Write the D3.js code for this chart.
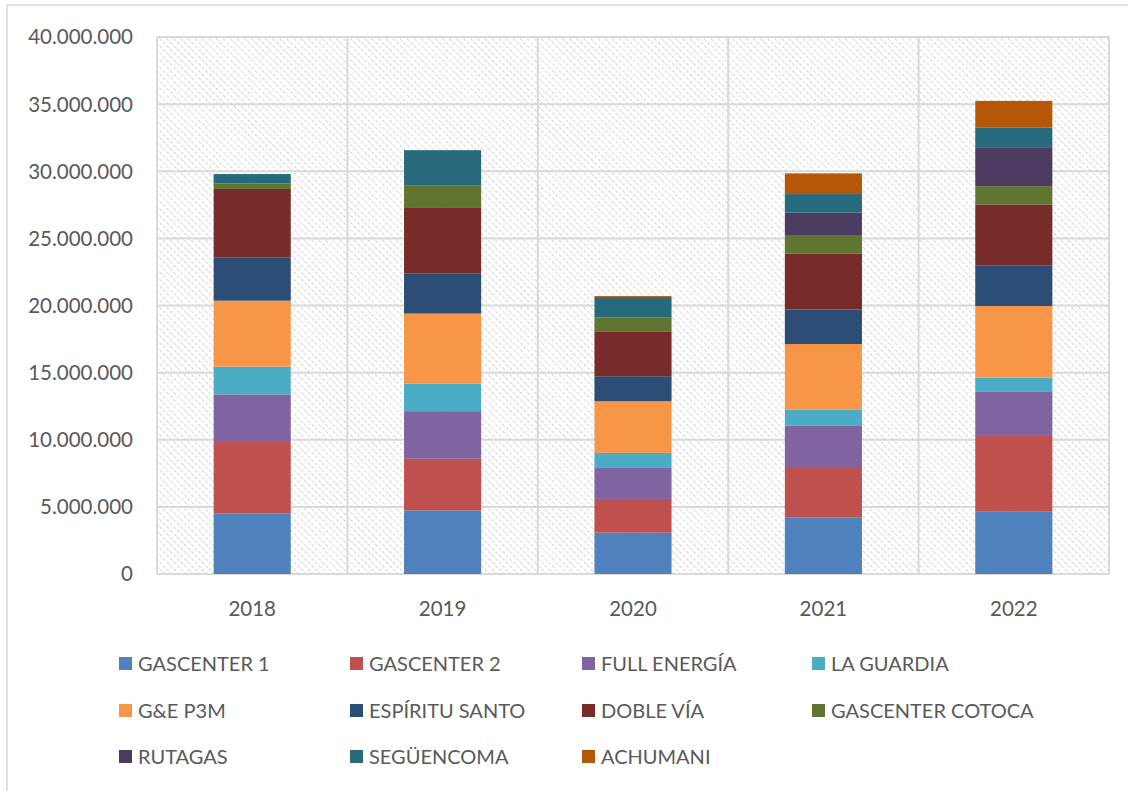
<!DOCTYPE html>
<html>
<head>
<meta charset="utf-8">
<script src="https://cdn.jsdelivr.net/npm/d3@7"></script>
<style>
  body { margin: 0; background: #fff; }
  svg text { font-family: Lato, "Open Sans", sans-serif; fill: #595959; }
</style>
</head>
<body>
<div id="app"></div>
<script>
const years = ["2018", "2019", "2020", "2021", "2022"];
const seriesNames = [
  "GASCENTER 1", "GASCENTER 2", "FULL ENERGÍA", "LA GUARDIA",
  "G&E P3M", "ESPÍRITU SANTO", "DOBLE VÍA", "GASCENTER COTOCA",
  "RUTAGAS", "SEGÜENCOMA", "ACHUMANI"
];
const seriesColors = [
  "#4f81bd", "#c0504d", "#8064a2", "#4bacc6",
  "#f79646", "#2c4d75", "#772c2a", "#5f7530",
  "#4d3b62", "#276a7c", "#b65708"
];

// values per year, one array per station (2018..2022)
const gascenter1 = [4520000, 4740000, 3080000, 4220000, 4640000];
const gascenter2 = [5310000, 3840000, 2510000, 3750000, 5710000];
const fullEnergia = [3550000, 3550000, 2310000, 3100000, 3260000];
const laGuardia = [2060000, 2060000, 1120000, 1190000, 1010000];
const gyeP3m = [4920000, 5210000, 3850000, 4870000, 5340000];
const espirituSanto = [3200000, 3000000, 1860000, 2580000, 3000000];
const dobleVia = [5120000, 4920000, 3350000, 4170000, 4570000];
const gascenterCotoca = [420000, 1640000, 1040000, 1370000, 1360000];
const rutagas = [0, 0, 0, 1660000, 2900000];
const seguencoma = [690000, 2610000, 1510000, 1390000, 1470000];
const achumani = [0, 0, 70000, 1540000, 1980000];

const yTicks = [0, 5000000, 10000000, 15000000, 20000000, 25000000, 30000000, 35000000, 40000000];

const allSeries = [
  gascenter1, gascenter2, fullEnergia, laGuardia, gyeP3m, espirituSanto,
  dobleVia, gascenterCotoca, rutagas, seguencoma, achumani
];

const width = 1128;
const height = 791;
const plot = { left: 157, right: 1109, top: 37, bottom: 574 };

const table = years.map((y, i) => {
  const row = { year: y };
  seriesNames.forEach((name, k) => { row[name] = allSeries[k][i]; });
  return row;
});

const stacked = d3.stack().keys(seriesNames)(table);

const xScale = d3.scaleBand()
  .domain(years)
  .range([plot.left, plot.right])
  .padding(0);

const yScale = d3.scaleLinear()
  .domain([0, 40000000])
  .range([plot.bottom, plot.top]);

const barWidth = xScale.bandwidth() * 0.405;

const svg = d3.select("#app")
  .append("svg")
  .attr("width", width)
  .attr("height", height);

// hatch fill of the plot area
const defs = svg.append("defs");
const pattern = defs.append("pattern")
  .attr("id", "hatch")
  .attr("patternUnits", "userSpaceOnUse")
  .attr("width", 5)
  .attr("height", 5)
  .attr("patternTransform", "rotate(-45)");
pattern.append("line")
  .attr("x1", 0).attr("y1", 0)
  .attr("x2", 0).attr("y2", 5)
  .attr("stroke", "#cbcbcb")
  .attr("stroke-width", 1.6)
  .attr("stroke-dasharray", "3.5 1.5");

// outer chart frame
svg.append("rect")
  .attr("x", 7)
  .attr("y", 5)
  .attr("width", width + 10)
  .attr("height", height + 10)
  .attr("fill", "none")
  .attr("stroke", "#d9d9d9")
  .attr("stroke-width", 1.5);

svg.append("rect")
  .attr("x", plot.left)
  .attr("y", plot.top)
  .attr("width", plot.right - plot.left)
  .attr("height", plot.bottom - plot.top)
  .attr("fill", "url(#hatch)");

// horizontal gridlines
svg.append("g")
  .selectAll("line")
  .data(yTicks)
  .enter()
  .append("line")
  .attr("x1", plot.left)
  .attr("x2", plot.right)
  .attr("y1", (d) => yScale(d))
  .attr("y2", (d) => yScale(d))
  .attr("stroke", "#d9d9d9")
  .attr("stroke-width", 2);

// vertical gridlines at category edges
const edges = years.map((y) => xScale(y)).concat([plot.right]);
svg.append("g")
  .selectAll("line")
  .data(edges)
  .enter()
  .append("line")
  .attr("x1", (d) => d)
  .attr("x2", (d) => d)
  .attr("y1", plot.top)
  .attr("y2", plot.bottom)
  .attr("stroke", "#d9d9d9")
  .attr("stroke-width", 2);

// stacked bars
svg.append("g")
  .selectAll("g")
  .data(stacked)
  .enter()
  .append("g")
  .attr("fill", (d, i) => seriesColors[i])
  .selectAll("rect")
  .data((d) => d)
  .enter()
  .append("rect")
  .attr("x", (d) => xScale(d.data.year) + (xScale.bandwidth() - barWidth) / 2)
  .attr("y", (d) => yScale(d[1]))
  .attr("width", barWidth)
  .attr("height", (d) => yScale(d[0]) - yScale(d[1]));

// y axis labels
const fmt = (v) => d3.format(",")(v).replace(/,/g, ".");
svg.append("g")
  .selectAll("text")
  .data(yTicks)
  .enter()
  .append("text")
  .attr("x", 133)
  .attr("y", (d) => yScale(d))
  .attr("dy", "0.36em")
  .attr("text-anchor", "end")
  .style("font-size", "20.5px")
  .text((d) => fmt(d));

// x axis labels
svg.append("g")
  .selectAll("text")
  .data(years)
  .enter()
  .append("text")
  .attr("x", (d) => xScale(d) + xScale.bandwidth() / 2)
  .attr("y", 609)
  .attr("dy", "0.36em")
  .attr("text-anchor", "middle")
  .style("font-size", "20.5px")
  .text((d) => d);

// legend
const legendCols = [119, 350, 582, 812];
const legendRows = [664, 711, 757];
const legend = svg.append("g").attr("id", "legend");
const items = legend.selectAll("g")
  .data(seriesNames)
  .enter()
  .append("g")
  .attr("transform", (d, i) => `translate(${legendCols[i % 4]}, ${legendRows[Math.floor(i / 4)]})`);
items.append("rect")
  .attr("x", 0)
  .attr("y", -7)
  .attr("width", 13)
  .attr("height", 13)
  .attr("fill", (d, i) => seriesColors[i]);
items.append("text")
  .attr("x", 19)
  .attr("y", 0)
  .attr("dy", "0.36em")
  .style("font-size", "20px")
  .text((d) => d);
</script>
</body>
</html>
